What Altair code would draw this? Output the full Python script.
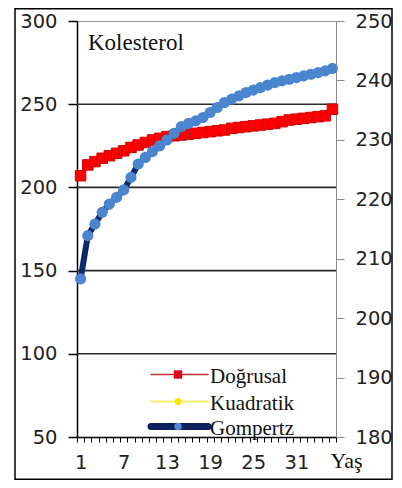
import json
import altair as alt
import pandas as pd

# ---------------- data ----------------
ages = list(range(1, 37))
dogrusal = [207, 213.5, 215.5, 217.5, 219, 220.5, 222, 224, 225.5, 227, 228.5, 229.5,
            230.5, 231, 231.5, 232, 232.5, 233, 233.5, 234, 234.5, 235.5, 236, 236.5,
            237, 237.5, 238, 238.5, 239.5, 240.5, 241, 241.5, 242, 242.5, 243, 247]
kuadratik = [207, 213.5, 215.5, 217.5, 219, 220.5, 222, 224, 225.5, 227, 228.5, 229.5,
             230.5, 231, 231.5, 232, 232.5, 233, 233.5, 234, 234.5, 235.5, 236, 236.5,
             237, 237.5, 238, 238.5, 239.5, 240.5, 241, 241.5, 242, 242.5, 243, 247]
gompertz = [145, 171, 178, 185, 190, 194, 198.5, 206, 214, 218, 221.5, 225,
            228.5, 232.5, 236.5, 238.5, 240, 242, 245, 248, 251, 253, 255, 257,
            258.5, 260, 261.5, 263, 264, 265, 266, 267, 268, 269, 270, 271.5]
series_names = ["Doğrusal", "Kuadratik", "Gompertz"]
left_ticks = [50, 100, 150, 200, 250, 300]
right_ticks = [180, 190, 200, 210, 220, 230, 240, 250]
grid_values = [100, 150, 200, 250]
x_labels = [1, 7, 13, 19, 25, 31]
chart_title = "Kolesterol"
x_title = "Yaş"

SERIF = "Times New Roman, Liberation Serif, DejaVu Serif, serif"
SANS = "DejaVu Sans"
W_PLOT, H_PLOT = 259, 416
PAD = {"left": 69, "top": 13, "right": 57, "bottom": 43}

# ---------------- scales / axes ----------------
band_edges = [k + 0.5 for k in range(0, len(ages) + 1)]
xscale = alt.Scale(domain=[0.5, len(ages) + 0.5], nice=False, zero=False)
xaxis = alt.Axis(
    title=x_title, values=band_edges,
    labelExpr="indexof(" + json.dumps(x_labels) + ", datum.value + 0.5) >= 0 ? format(datum.value + 0.5, 'd') : ''",
    labelOffset=W_PLOT / len(ages) / 2, labelFlush=False, labelOverlap=False,
    tickSize=5, tickColor="black", tickWidth=1,
    domainColor="black", domainWidth=1.5,
    labelFont=SANS, labelFontSize=19.5, labelColor="#222", labelPadding=11,
    titleFont=SERIF, titleFontSize=22, titleFontWeight="normal", titleColor="#111",
    titleX=253, titleY=30, titleAlign="left", titleBaseline="alphabetic", grid=False,
)
yscale = alt.Scale(domain=[50, 300], nice=False, zero=False)
yaxis = alt.Axis(
    title=None, values=left_ticks, orient="left", grid=False,
    domainColor="black", domainWidth=1.5, tickColor="black", tickSize=9, tickWidth=1.5,
    labelFont=SANS, labelFontSize=19.5, labelColor="#222", labelPadding=11,
    labelFlush=False,
)
raxis = alt.Axis(
    title=None, values=right_ticks, orient="right", grid=False,
    domainColor="#8a8a8a", domainWidth=1, tickColor="#8a8a8a", tickSize=8, tickWidth=1,
    labelFont=SANS, labelFontSize=19.5, labelColor="#222", labelPadding=11,
    labelFlush=False,
)


def X(f):
    return alt.X(f, type="quantitative", scale=xscale, axis=xaxis)


def Y(f):
    return alt.Y(f, type="quantitative", scale=yscale, axis=yaxis)


df_d = pd.DataFrame({"age": ages, "v": dogrusal})
df_k = pd.DataFrame({"age": ages, "v": kuadratik})
df_g = pd.DataFrame({"age": ages, "v": gompertz})

grid = alt.Chart(pd.DataFrame({"g": grid_values})).mark_rule(
    color="#2b2b2b", strokeWidth=1.6).encode(y=Y("g"))

k_line = alt.Chart(df_k).mark_line(color="#ffff00", strokeWidth=1.5).encode(x=X("age"), y=Y("v"))
k_pts = alt.Chart(df_k).mark_circle(color="#ffe600", size=60, opacity=1).encode(x=X("age"), y=Y("v"))
d_line = alt.Chart(df_d).mark_line(color="#ff0000", strokeWidth=1.5).encode(x=X("age"), y=Y("v"))
d_pts = alt.Chart(df_d).mark_square(color="#ff0000", size=110, opacity=1, stroke="#d40000",
                                    strokeWidth=1).encode(x=X("age"), y=Y("v"))
g_line = alt.Chart(df_g).mark_line(color="#0b2a6e", strokeWidth=6).encode(x=X("age"), y=Y("v"))
g_pts = alt.Chart(df_g).mark_circle(color="#4a86d0", size=125, opacity=1).encode(x=X("age"), y=Y("v"))

inner = alt.layer(grid, k_line, k_pts, d_line, d_pts, g_line, g_pts)

right = alt.Chart(pd.DataFrame({"r": right_ticks})).mark_tick(opacity=0).encode(
    y=alt.Y("r:Q", scale=alt.Scale(domain=[180, 250], nice=False, zero=False), axis=raxis))

one = alt.Data(values=[{"a": 1}])
border = alt.Chart(one).mark_rect(fill="transparent", stroke="black", strokeWidth=1.5).encode(
    x=alt.value(-62), x2=alt.value(315), y=alt.value(-12.25), y2=alt.value(458.25))

title_txt = alt.Chart(pd.DataFrame({"t": [chart_title]})).mark_text(
    align="left", baseline="alphabetic", font=SERIF, fontSize=23, color="#111"
).encode(x=alt.value(11), y=alt.value(29), text="t:N")


def legend_row(name, y, line_color, line_w, pt_mark, pt_kw):
    base = alt.Chart(pd.DataFrame({"t": [name]}))
    ln = base.mark_rule(color=line_color, strokeWidth=line_w, strokeCap="round").encode(
        x=alt.value(74), x2=alt.value(131), y=alt.value(y))
    pt = getattr(base, pt_mark)(**pt_kw).encode(x=alt.value(101), y=alt.value(y))
    tx = base.mark_text(align="left", baseline="alphabetic", font=SERIF,
                        fontSize=21, color="#111").encode(
        x=alt.value(133), y=alt.value(y + 8.5), text="t:N")
    return [ln, pt, tx]


legend = []
legend += legend_row(series_names[0], 353.5, "#c03030", 1.5, "mark_square",
                     dict(color="#e0001a", size=70, opacity=1))
legend += legend_row(series_names[1], 380.5, "#f4ef70", 2, "mark_circle",
                     dict(color="#ffe400", size=50, opacity=1))
legend += legend_row(series_names[2], 405.5, "#0a1f5c", 7, "mark_circle",
                     dict(color="#4f88d8", size=55, opacity=1))

chart = alt.layer(inner, right, border, title_txt, *legend).resolve_scale(
    y="independent"
).properties(
    width=W_PLOT, height=H_PLOT, padding=PAD,
    autosize=alt.AutoSizeParams(type="none"),
).configure_view(stroke="#9a9a9a", strokeWidth=1)

chart.save("out.html", embed_options={"renderer": "svg", "actions": False})
